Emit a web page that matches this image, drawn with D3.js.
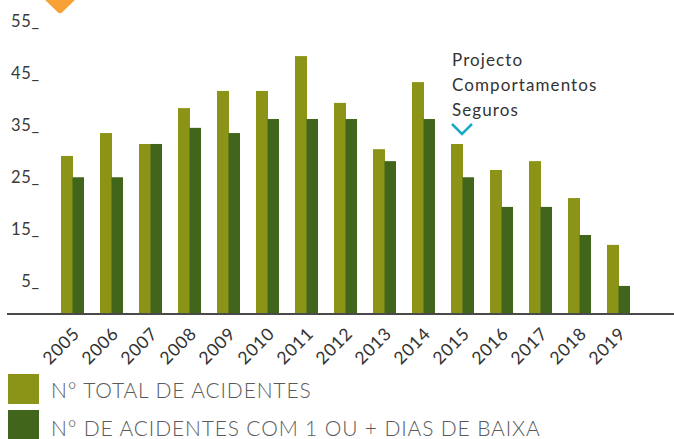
<!DOCTYPE html>
<html>
<head>
<meta charset="utf-8">
<script src="https://cdn.jsdelivr.net/npm/d3@7"></script>
<style>
  html, body { margin: 0; padding: 0; background: #fff; }
  svg { display: block; }
  text { font-family: Lato, "Open Sans", sans-serif; }
</style>
</head>
<body>
<svg id="chart" width="674" height="439"></svg>
<script>
const years = ["2005","2006","2007","2008","2009","2010","2011","2012","2013","2014","2015","2016","2017","2018","2019"];
const totalAccidents = [30.3, 34.7, 32.6, 39.5, 42.8, 42.8, 49.5, 40.5, 31.6, 44.5, 32.6, 27.6, 29.3, 22.2, 13.2];
const lostDayAccidents = [26.2, 26.2, 32.6, 35.7, 34.7, 37.4, 37.4, 37.4, 29.3, 37.4, 26.2, 20.5, 20.5, 15.1, 5.3];
const tickValues = [5, 15, 25, 35, 45, 55];
const seriesNames = ["N° TOTAL DE ACIDENTES", "N° DE ACIDENTES COM 1 OU + DIAS DE BAIXA"];
const annotationLines = ["Projecto", "Comportamentos", "Seguros"];
const annotationYear = "2015";

const colors = ["#8b9416", "#41661b"];

const svg = d3.select("#chart");

const x = d3.scaleBand().domain(years).range([53, 638]).paddingInner(0.41).paddingOuter(0.205);
const xs = d3.scaleBand().domain([0, 1]).range([0, x.bandwidth()]);
const y = d3.scaleLinear().domain([0, 55]).range([313.5, 27.5]);

// orange marker at top
svg.append("path")
  .attr("d", "M43,-2 L77,-2 L62.5,12 Q60,14.5 57.5,12 Z")
  .attr("fill", "#f7a136");

// bars
const series = [totalAccidents, lostDayAccidents];
series.forEach((vals, si) => {
  svg.append("g").selectAll("rect")
    .data(years.map((yr, i) => ({ yr, v: vals[i] })))
    .join("rect")
    .attr("x", d => x(d.yr) + xs(si))
    .attr("width", xs.bandwidth() + (si === 0 ? 0.5 : 0))
    .attr("y", d => y(d.v))
    .attr("height", d => y(0) - y(d.v))
    .attr("fill", colors[si]);
});

// baseline
svg.append("line")
  .attr("x1", 7).attr("x2", 674)
  .attr("y1", y(0) + 0.5).attr("y2", y(0) + 0.5)
  .attr("stroke", "#4a4a4a").attr("stroke-width", 2);

// y tick labels
svg.append("g").selectAll("text")
  .data(tickValues)
  .join("text")
  .attr("x", 40)
  .attr("y", d => y(d) - 1)
  .attr("text-anchor", "end")
  .attr("font-size", 16.5)
  .attr("letter-spacing", 0.8)
  .attr("fill", "#3a3a3a")
  .text(d => d + "_");

// x labels
svg.append("g").selectAll("text")
  .data(years)
  .join("text")
  .attr("transform", d => `translate(${x(d) + x.bandwidth() / 2 + 8},335) rotate(-45)`)
  .attr("text-anchor", "end")
  .attr("font-size", 17.5)
  .attr("letter-spacing", 0.6)
  .attr("fill", "#333")
  .text(d => d);

// annotation
const ax = x(annotationYear);
svg.append("g").selectAll("text")
  .data(annotationLines)
  .join("text")
  .attr("x", ax + 1)
  .attr("y", (d, i) => 66 + i * 25)
  .attr("font-size", 17)
  .attr("letter-spacing", 1.1)
  .attr("fill", "#333")
  .text(d => d);

svg.append("path")
  .attr("d", `M${ax + 1},${124} L${ax + 11},${134} L${ax + 21},${124}`)
  .attr("fill", "none")
  .attr("stroke", "#1aa9c6")
  .attr("stroke-width", 2.5);

// legend
const lg = svg.append("g");
seriesNames.forEach((name, i) => {
  lg.append("rect")
    .attr("x", 8).attr("y", 374 + i * 36)
    .attr("width", 31).attr("height", 30)
    .attr("fill", colors[i]);
  lg.append("text")
    .attr("x", 51).attr("y", 398 + i * 38)
    .attr("font-size", 21)
    .attr("font-weight", 300)
    .attr("letter-spacing", 0.85)
    .attr("fill", "#5a5a5a")
    .text(name);
});
</script>
</body>
</html>
